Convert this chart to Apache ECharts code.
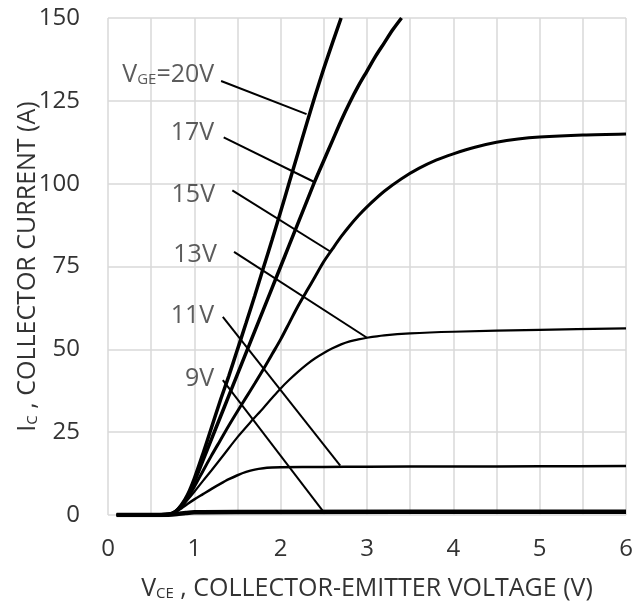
<!DOCTYPE html>
<html><head><meta charset="utf-8">
<script src="https://cdn.jsdelivr.net/npm/echarts@6/dist/echarts.min.js"></script>
<style>html,body{margin:0;padding:0;background:#fff}#c{width:638px;height:603px}</style>
</head><body><div id="c"></div>
<script>
// I-V curves: [VCE (V), IC (A)]
const curve20V = [[0.1,0],[0.5,0],[0.7,0.2],[0.78,1],[0.85,3],[0.92,6],[1.0,11],[1.1,18.5],[1.2,26.5],[1.3,34.5],[1.4,42],[1.5,50],[1.6,58],[1.7,66.2],[1.8,74.6],[1.9,83],[2.0,91.6],[2.1,100.4],[2.2,109.2],[2.3,118],[2.4,126.6],[2.5,134.8],[2.6,142.5],[2.7,150]];
const curve17V = [[0.1,0],[0.5,0],[0.7,0.2],[0.78,1],[0.85,2.8],[0.92,5.5],[1.0,10],[1.1,16.5],[1.2,23],[1.3,29.5],[1.4,36],[1.5,42.5],[1.6,49],[1.7,55.5],[1.8,62],[1.9,68.5],[2.0,75],[2.1,81.5],[2.2,88],[2.3,94.5],[2.4,101],[2.5,107],[2.6,113],[2.7,119],[2.8,124.5],[2.9,129.5],[3.0,134],[3.1,138.5],[3.2,142.5],[3.3,146.5],[3.4,150]];
const curve15V = [[0.1,0],[0.5,0],[0.7,0.2],[0.78,1],[0.85,2.5],[0.92,5],[1.0,8.5],[1.1,13.3],[1.2,18],[1.3,22.5],[1.4,27],[1.5,31.3],[1.6,35.5],[1.7,39.7],[1.8,44],[1.9,48.5],[2.0,53],[2.1,58],[2.2,63],[2.3,67.5],[2.4,72],[2.5,76.5],[2.6,80.3],[2.7,84],[2.8,87.3],[2.9,90.3],[3.0,93],[3.2,97.7],[3.4,101.5],[3.6,104.6],[3.8,107.1],[4.0,109],[4.25,111],[4.5,112.5],[4.75,113.5],[5.0,114.1],[5.5,114.7],[6,115]];
const curve13V = [[0.1,0],[0.5,0],[0.7,0.2],[0.78,1],[0.85,2.5],[0.92,4.5],[1.0,7],[1.1,10.3],[1.2,13.5],[1.35,18.5],[1.5,23.5],[1.65,28],[1.8,32.3],[1.9,35.3],[2.0,38.2],[2.1,40.8],[2.2,43.2],[2.3,45.4],[2.4,47.3],[2.5,48.9],[2.6,50.3],[2.7,51.5],[2.8,52.4],[2.9,53],[3.0,53.5],[3.2,54.2],[3.5,54.8],[4,55.3],[5,55.9],[6,56.3]];
const curve11V = [[0.1,0],[0.5,0],[0.7,0.2],[0.78,1],[0.85,2],[0.92,3.3],[1.0,4.7],[1.1,6.3],[1.2,7.9],[1.3,9.4],[1.4,10.8],[1.5,12],[1.6,13],[1.7,13.7],[1.8,14.1],[1.9,14.3],[2.0,14.4],[2.5,14.5],[3,14.6],[4,14.65],[5,14.7],[6,14.8]];
const curve9V = [[0.1,0],[0.5,0],[0.7,0.1],[0.8,0.3],[0.9,0.6],[1.0,0.8],[1.5,0.9],[6,1.0]];

// annotation labels and leader lines (data coordinates)
const labelText = ['20V','17V','15V','13V','11V','9V'];
const labelPos = [[1.23,133.7],[1.23,116.2],[1.24,97.5],[1.26,79.4],[1.23,61],[1.23,41.7]];
const leaderStart = [[1.31,131],[1.34,114],[1.44,98],[1.46,79.4],[1.33,59.8],[1.33,40.7]];
const leaderEnd = [[2.3,121],[2.39,100.5],[2.57,79.6],[3.0,53.5],[2.69,14.9],[2.49,1.2]];

const xTicks = [0,1,2,3,4,5,6];
const yTicks = [0,25,50,75,100,125,150];

const FONT = 'Open Sans';
const TXT = '#333333';
const curves = [curve20V, curve17V, curve15V, curve13V, curve11V, curve9V];
const widths = [3.5, 3.5, 3, 2.2, 2.5, 4.5];

const richDef = (big, small) => ({
  m: {fontFamily: FONT, fontSize: big, color: TXT, lineHeight: 30, verticalAlign: 'bottom'},
  s: {fontFamily: FONT, fontSize: small, color: TXT, lineHeight: 23, verticalAlign: 'bottom'}
});

const series = [];
curves.forEach((c, i) => {
  series.push({
    type: 'line', data: c, showSymbol: false, smooth: 0.3,
    lineStyle: {color: '#000', width: widths[i]}, silent: true, z: 3
  });
});
leaderStart.forEach((s, i) => {
  series.push({
    type: 'line', data: [s, leaderEnd[i]], showSymbol: false,
    lineStyle: {color: '#000', width: 2}, silent: true, z: 4
  });
});
series.push({
  type: 'scatter', symbolSize: 0, silent: true, z: 5,
  data: labelPos.map((p, i) => ({value: p, name: labelText[i]})),
  label: {
    show: true, position: [0, 0], align: 'right', verticalAlign: 'middle',
    fontFamily: FONT, fontSize: 25, color: TXT,
    formatter: p => p.dataIndex === 0 ? '{m|V}{s|GE}{m|=20V}' : '{m|' + p.name + '}',
    rich: richDef(25, 15)
  }
});

const chart = echarts.init(document.getElementById('c'), null, {renderer: 'canvas'});
chart.setOption({
  animation: false,
  backgroundColor: '#fff',
  grid: {left: 108, right: 12, top: 18, bottom: 88, containLabel: false, outerBoundsMode: 'none'},
  xAxis: {
    type: 'value', min: xTicks[0], max: xTicks[xTicks.length - 1], interval: 0.5,
    axisLine: {show: false}, axisTick: {show: false},
    splitLine: {show: true, lineStyle: {color: '#d9d9d9', width: 1.5}},
    axisLabel: {
      fontFamily: FONT, fontSize: 24, color: TXT, margin: 22,
      formatter: v => (xTicks.indexOf(v) >= 0 ? String(v) : '')
    },
    name: '{m|V}{s|CE}{m| , COLLECTOR-EMITTER VOLTAGE (V)}',
    nameLocation: 'middle', nameGap: 56,
    nameTextStyle: {rich: richDef(25, 15)}
  },
  yAxis: {
    type: 'value', min: yTicks[0], max: yTicks[yTicks.length - 1], interval: 25,
    axisLine: {show: false}, axisTick: {show: false},
    splitLine: {show: true, lineStyle: {color: '#d9d9d9', width: 1.5}},
    axisLabel: {fontFamily: FONT, fontSize: 24, color: TXT, margin: 28},
    name: '{m|I}{s|C}{m| , COLLECTOR CURRENT (A)}',
    nameLocation: 'middle', nameGap: 68, nameRotate: 90, nameMoveOverlap: false,
    nameTextStyle: {rich: richDef(25, 15)}
  },
  series: series
});
</script>
</body></html>
